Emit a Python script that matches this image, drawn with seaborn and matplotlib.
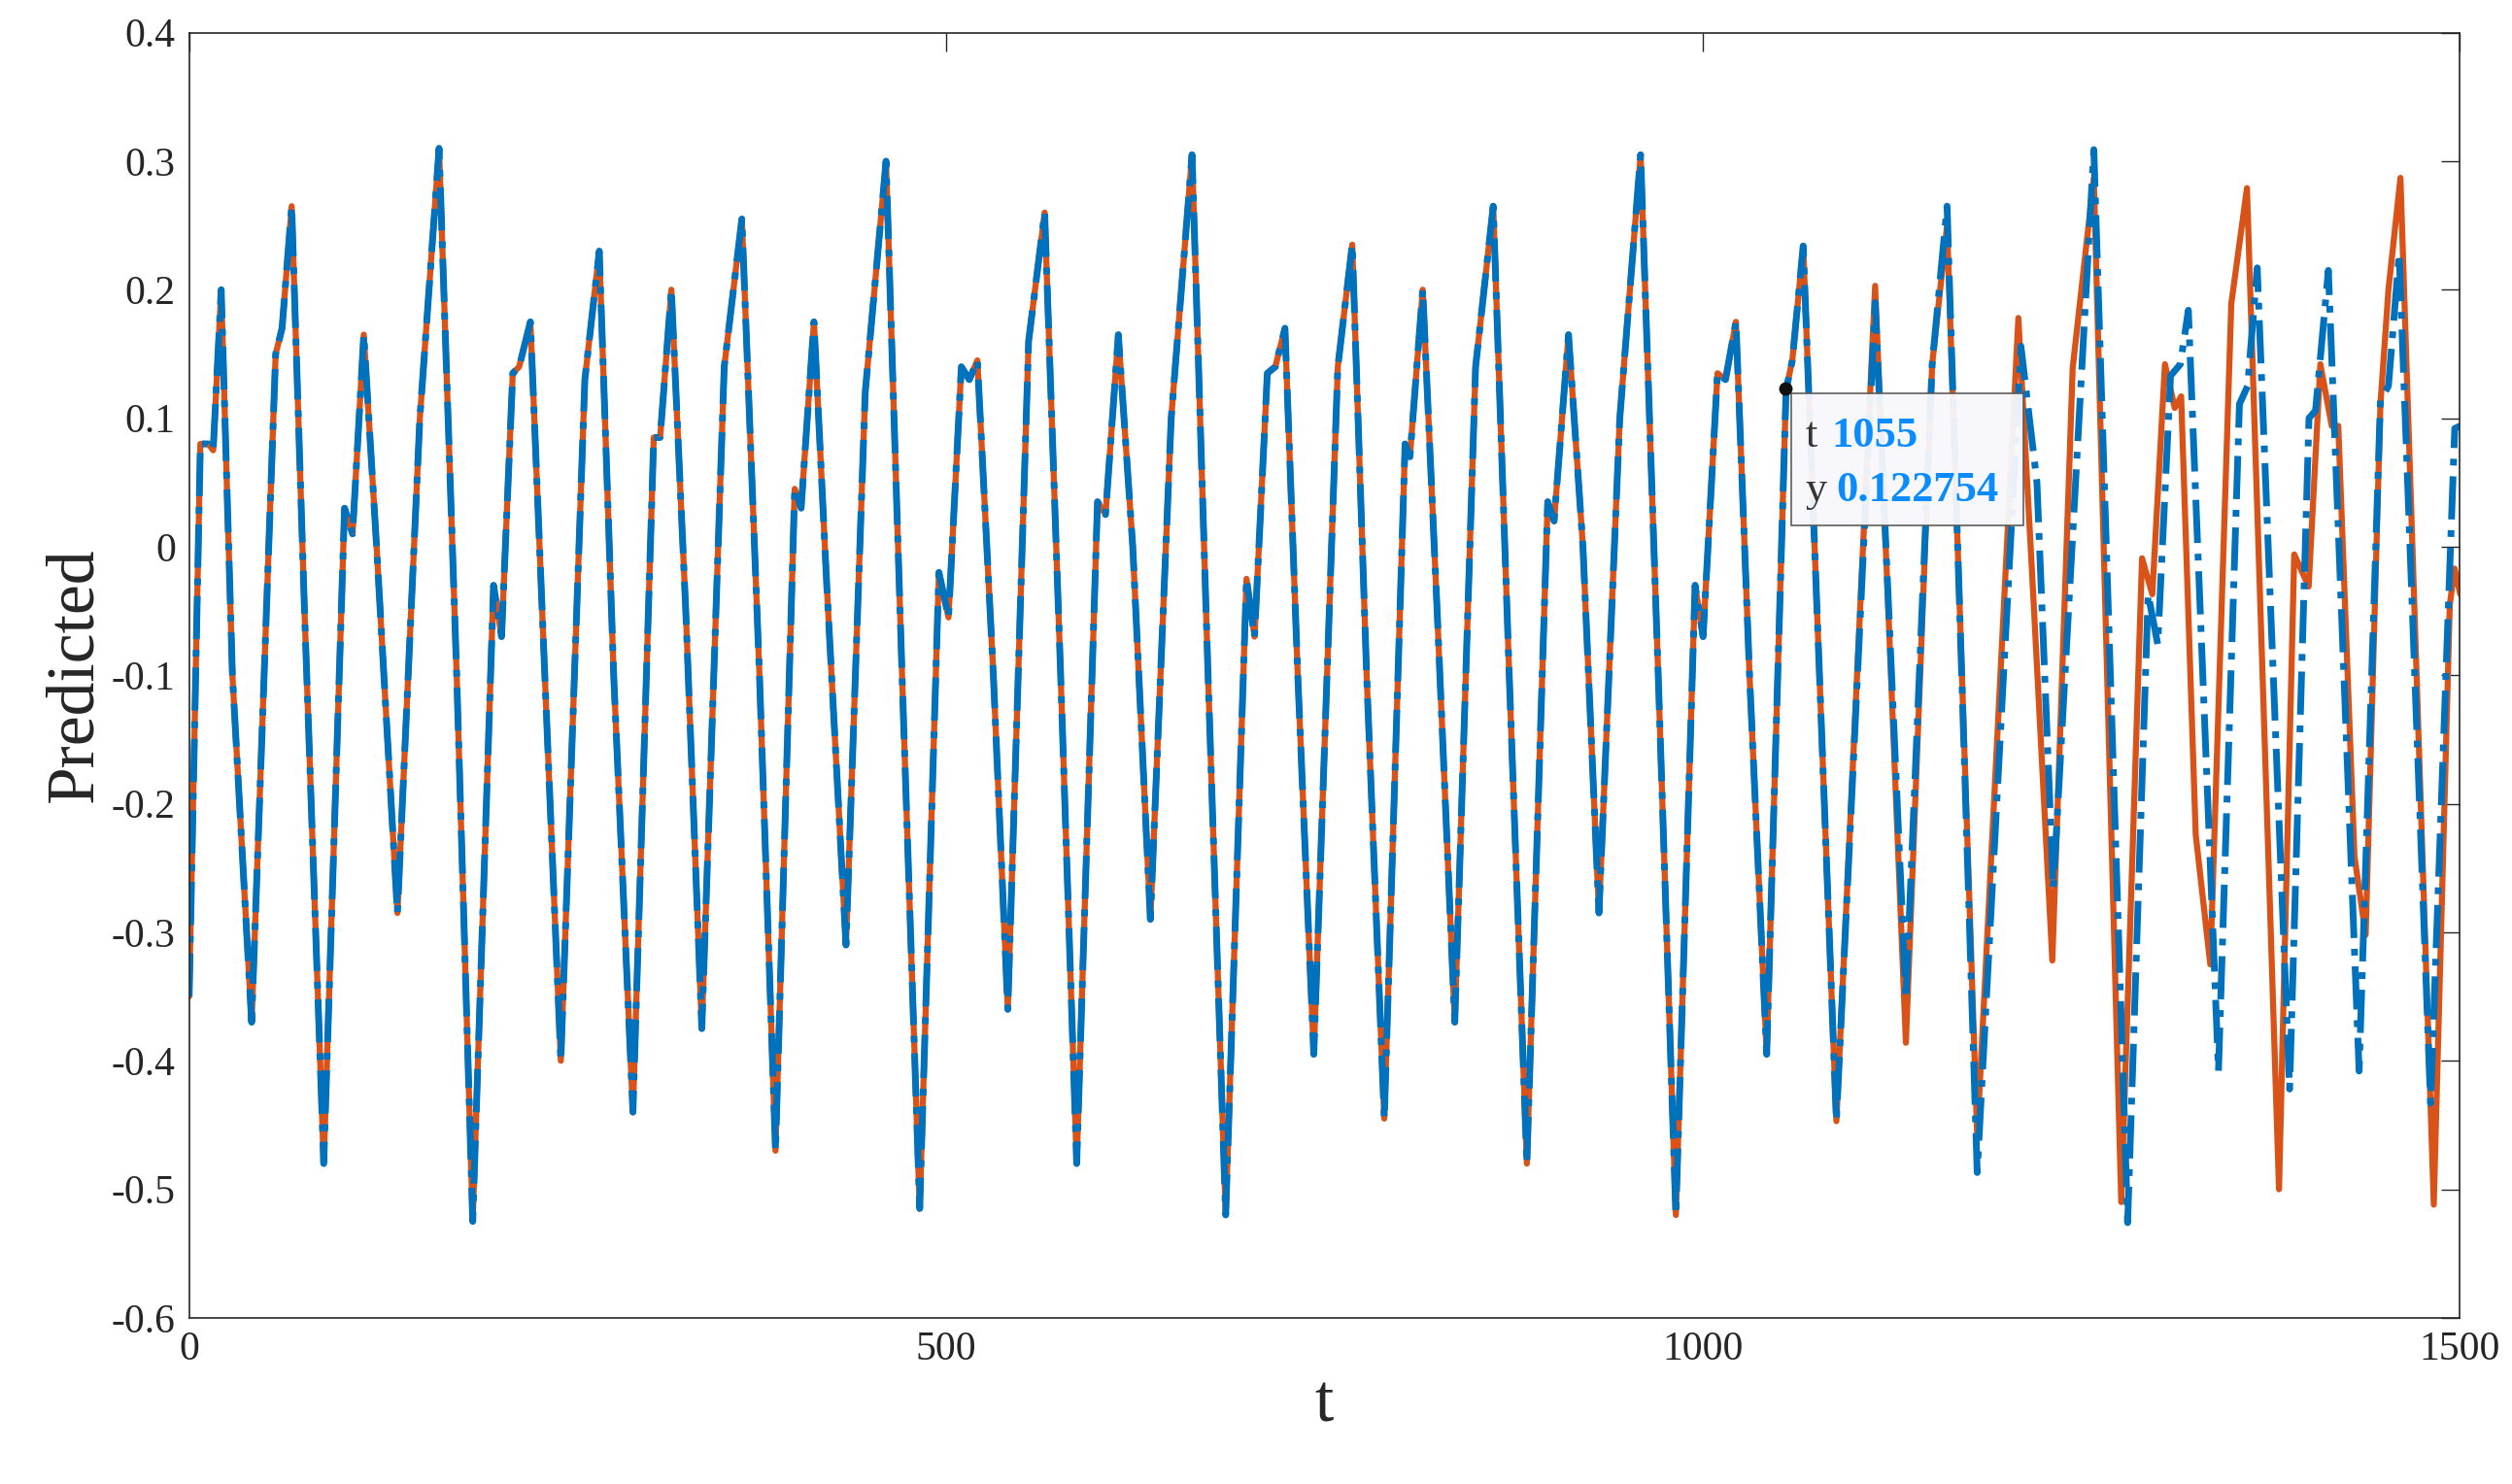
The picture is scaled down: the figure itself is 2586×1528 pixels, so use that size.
import numpy as np
import pandas as pd
import seaborn as sns
import matplotlib.pyplot as plt

# picture x position (pixels in a 1568-wide view) of each turning point, and y value
# common part, both series overlap
shared_px = [118, 125, 130, 133, 138, 145, 157, 172, 176, 182, 190, 202, 215, 220, 227, 235, 248, 262, 274, 285,
             295, 308, 313, 320, 324, 331, 340, 350, 365, 374, 383, 395, 408, 412, 419, 428, 438, 452, 463, 474,
             484, 496, 500, 508, 516, 528, 540, 553, 563, 574, 586, 592, 600, 605, 610, 620, 629, 642, 652, 662,
             672, 685, 690, 698, 707, 718, 731, 744, 754, 765, 778, 783, 791, 796, 802, 810, 820, 835, 844, 853,
             864, 877, 880, 888, 897, 908, 921, 932, 942, 953, 966, 970, 979, 988, 998, 1011, 1024, 1035, 1046,
             1058, 1063, 1072, 1077, 1083.5, 1092, 1102.7, 1114.8, 1118.7, 1125.5]
shared_y = [-0.35, 0.08, 0.08, 0.075, 0.2, -0.1, -0.37, 0.15, 0.17, 0.265, -0.05, -0.48, 0.03, 0.01, 0.165, 0.0,
            -0.285, 0.1, 0.31, -0.1, -0.525, -0.03, -0.07, 0.135, 0.14, 0.175, -0.1, -0.4, 0.13, 0.23, -0.1, -0.44,
            0.085, 0.085, 0.2, -0.05, -0.375, 0.14, 0.255, -0.1, -0.47, 0.045, 0.03, 0.175, -0.03, -0.31, 0.12, 0.3,
            -0.1, -0.515, -0.02, -0.055, 0.14, 0.13, 0.145, -0.1, -0.36, 0.16, 0.26, -0.1, -0.48, 0.035, 0.025,
            0.165, 0.0, -0.29, 0.1, 0.305, -0.1, -0.52, -0.025, -0.07, 0.135, 0.14, 0.17, -0.1, -0.395, 0.14, 0.235,
            -0.1, -0.445, 0.08, 0.07, 0.2, -0.05, -0.37, 0.14, 0.265, -0.1, -0.48, 0.035, 0.02, 0.165, 0.0, -0.285,
            0.1, 0.305, -0.1, -0.52, -0.03, -0.07, 0.135, 0.13, 0.175, -0.1, -0.395, 0.122, 0.145, 0.234]

actual_px = [1146.2, 1170.4, 1189.6, 1206, 1215.3, 1234.1, 1259.8, 1269.4, 1281, 1293.7, 1306.9, 1324, 1337,
             1343.4, 1351.3, 1357.4, 1361.4, 1370.5, 1379.6, 1392.7, 1402.5, 1422.5, 1432, 1441, 1448.3, 1455.4,
             1459.5, 1469.6, 1476.6, 1485.8, 1490.8, 1498.3, 1519.1, 1529.1, 1532.1, 1535.6]
actual_y = [-0.447, 0.203, -0.386, 0.142, 0.25, -0.459, 0.178, -0.045, -0.322, 0.139, 0.287, -0.51, -0.009,
            -0.037, 0.142, 0.108, 0.117, -0.224, -0.325, 0.189, 0.279, -0.5, -0.006, -0.031, 0.142, 0.094,
            0.094, -0.241, -0.302, 0.111, 0.2, 0.287, -0.512, -0.045, -0.017, -0.037]

pred_px = [1146.2, 1170.4, 1189.6, 1206, 1215.3, 1234.1, 1261.4, 1271.4, 1281.6, 1306.9, 1328, 1340.8, 1346.8,
           1354.8, 1360.9, 1365.9, 1384.7, 1397.8, 1402.9, 1408.9, 1429.1, 1441.2, 1445.3, 1453.3, 1472.5,
           1485.8, 1490.8, 1497.5, 1517.1, 1532.2, 1535.6]
pred_y = [-0.447, 0.19, -0.352, 0.142, 0.265, -0.487, 0.156, 0.05, -0.266, 0.309, -0.526, -0.037, -0.076,
          0.133, 0.142, 0.184, -0.408, 0.111, 0.125, 0.217, -0.422, 0.1, 0.106, 0.215, -0.408,
          0.114, 0.125, 0.228, -0.433, 0.092, 0.094]

tip_t, tip_y = 1055, 0.122754


def to_t(px):
    return (np.array(px) - 118) * 1500 / 1417


actual = pd.DataFrame({'t': to_t(shared_px + actual_px), 'y': shared_y + actual_y})
pred = pd.DataFrame({'t': to_t(shared_px + pred_px), 'y': shared_y + pred_y})

sns.set_style('white')
plt.rcParams['font.family'] = ['Liberation Serif', 'DejaVu Serif']

fig = plt.figure(figsize=(25.86, 15.28), dpi=100)
ax = fig.add_axes([0.0753, 0.112, 0.9037, 0.866])
sns.lineplot(data=actual, x='t', y='y', color='#D95319', linewidth=4.5, ax=ax, sort=False)
sns.lineplot(data=pred, x='t', y='y', color='#0072BD', linewidth=5, linestyle='-.', ax=ax, sort=False)

yt = np.round(np.arange(-0.6, 0.41, 0.1), 1)
ax.set_xlim(0, 1500)
ax.set_ylim(-0.6, 0.4)
ax.set_xticks([0, 500, 1000, 1500])
ax.set_yticks(yt)
ax.set_yticklabels(['0' if v == 0 else '%g' % v for v in yt])
ax.tick_params(direction='in', length=14, width=1, labelsize=30, top=True, right=True, pad=10)
for s in ax.spines.values():
    s.set_color('#262626')
    s.set_linewidth(1.2)
ax.set_xlabel('t', fontsize=50)
ax.set_ylabel('Predicted', fontsize=50)

# data tip
ax.plot([tip_t], [tip_y], 'o', color='#111111', markersize=9, zorder=10)
ax.text(1068, 0.086, 't', fontsize=32, color='#333333', va='center', zorder=9)
ax.text(1085, 0.086, str(tip_t), fontsize=32, color='#0A8CFF', fontweight='bold', va='center', zorder=9)
ax.text(1068, 0.044, 'y', fontsize=32, color='#333333', va='center', zorder=9)
ax.text(1088, 0.044, '%g' % tip_y, fontsize=32, color='#0A8CFF', fontweight='bold', va='center', zorder=9)
ax.add_patch(plt.Rectangle((1058.6, 0.0165), 153.5, 0.1025, facecolor='#F8F8FC', edgecolor='#555555',
                           linewidth=1.2, zorder=8, alpha=0.95))

fig.savefig('out.png', dpi=100)
